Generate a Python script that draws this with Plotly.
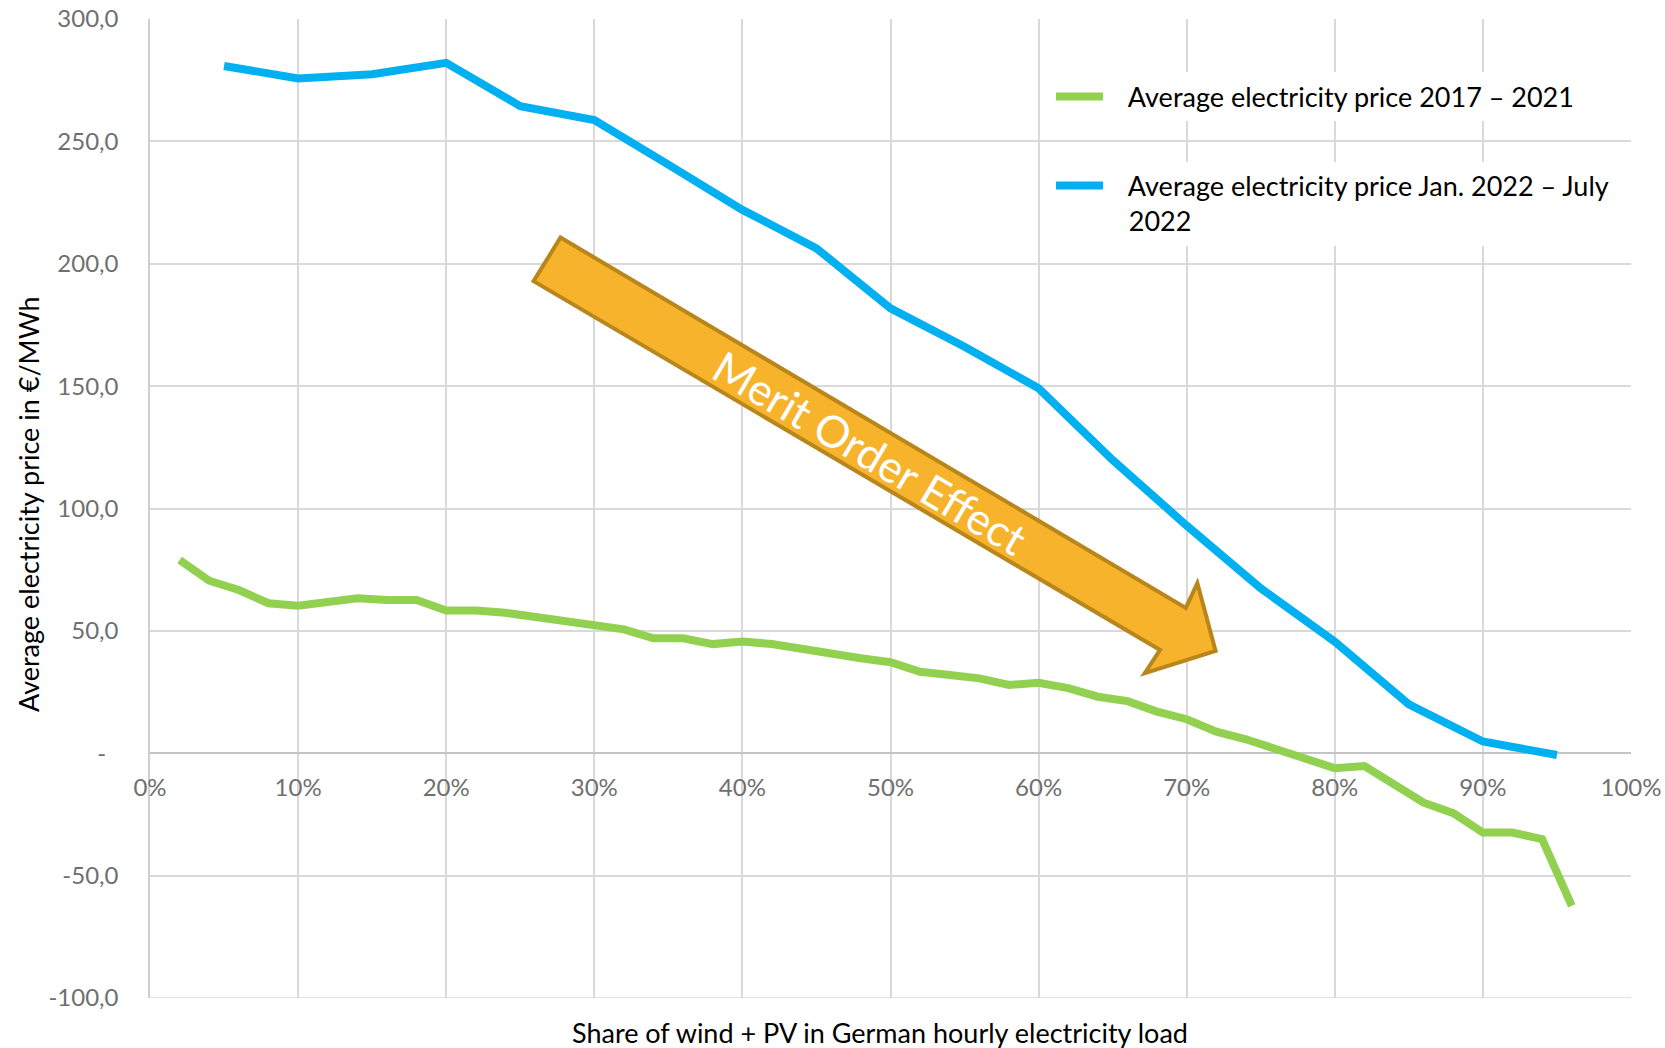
import plotly.graph_objects as go

# ---------------- data ----------------
share_2017_2021 = [2, 4, 6, 8, 10, 12, 14, 16, 18, 20, 22, 24, 26, 28, 30, 32,
                   34, 36, 38, 40, 42, 44, 46, 48, 50, 52, 54, 56, 58, 60, 62, 64,
                   66, 68, 70, 72, 74, 76, 78, 80, 82, 84, 86, 88, 90, 92, 94, 96]
price_2017_2021 = [79.0, 70.5, 66.7, 61.3, 60.3, 61.7, 63.3, 62.6, 62.6, 58.3, 58.3, 57.4,
                   55.8, 54.4, 52.4, 50.6, 47.0, 47.0, 44.6, 45.7, 44.6, 42.5, 40.8, 38.8,
                   37.2, 33.3, 32.0, 30.6, 27.9, 28.8, 26.6, 23.1, 21.3, 17.0, 13.9, 8.8,
                   5.7, 1.8, -2.0, -6.1, -5.2, -12.3, -20.2, -24.5, -32.4, -32.4, -35.1, -62.4]

share_2022 = [5, 10, 15, 20, 25, 30, 35, 40, 45, 50, 55, 60, 65, 70, 75, 80, 85, 90, 95]
price_2022 = [280.8, 275.7, 277.4, 282.1, 264.4, 258.7, 240.5, 222.0, 206.3, 181.8,
              166.1, 149.1, 119.8, 93.0, 67.4, 45.6, 20.0, 4.8, -0.7]

PAD = "\u00a0\u00a0\u00a0"
name_2017_2021 = PAD + "Average electricity price 2017 – 2021"
name_2022 = PAD + "Average electricity price Jan. 2022 – July<br>" + PAD + "2022"

x_tick_vals = [0, 10, 20, 30, 40, 50, 60, 70, 80, 90, 100]
x_tick_text = ["0%", "10%", "20%", "30%", "40%", "50%", "60%", "70%", "80%", "90%", "100%"]
y_tick_vals = [-100, -50, 0, 50, 100, 150, 200, 250, 300]
y_tick_text = ["-100,0", "-50,0", "-\u00a0\u00a0", "50,0", "100,0", "150,0",
               "200,0", "250,0", "300,0"]
y_min, y_max = -100, 300

x_title = "Share of wind + PV in German hourly electricity load"
y_title = "Average electricity price in €/MWh"
arrow_label = "Merit Order Effect"

# arrow outline (annotation shape, in data units)
arrow_x = [27.72, 69.94, 70.72, 71.95, 67.17, 68.20, 25.90]
arrow_y = [210.7, 59.4, 69.5, 41.8, 32.7, 42.2, 192.9]

# ---------------- style ----------------
FONT = "Lato, 'Open Sans', sans-serif"
GREEN = "#92D050"
BLUE = "#00B0F0"
GRID = "#d9d9d9"
TICK = "#6f6f6f"
ARROW_FILL = "#F7B32B"
ARROW_LINE = "#B8861B"

fig = go.Figure()
fig.add_trace(go.Scatter(x=share_2017_2021, y=price_2017_2021, mode="lines",
                         name=name_2017_2021, legend="legend",
                         line=dict(color=GREEN, width=8)))
fig.add_trace(go.Scatter(x=share_2022, y=price_2022, mode="lines",
                         name=name_2022, legend="legend2",
                         line=dict(color=BLUE, width=8)))

# bottom grid line (plotly drops the gridline on the lower edge)
fig.add_shape(type="line", xref="paper", x0=0, x1=1, yref="y", y0=y_min, y1=y_min,
              line=dict(color=GRID, width=1.5), layer="below")

path = "M " + " L ".join(f"{x},{y}" for x, y in zip(arrow_x, arrow_y)) + " Z"
fig.add_shape(type="path", path=path, xref="x", yref="y",
              fillcolor=ARROW_FILL, line=dict(color=ARROW_LINE, width=4), layer="above")

fig.add_annotation(x=48.6, y=123.0, xref="x", yref="y", text=arrow_label,
                   textangle=30.6, showarrow=False,
                   font=dict(family=FONT, size=44, color="white"))

fig.add_annotation(x=0.4929, y=-0.0357, xref="paper", yref="paper", text=x_title,
                   showarrow=False, xanchor="center", yanchor="middle",
                   font=dict(family=FONT, size=27, color="black"))
fig.add_annotation(x=-0.0817, y=0.5046, xref="paper", yref="paper", text=y_title,
                   showarrow=False, textangle=-90, xanchor="center", yanchor="middle",
                   font=dict(family=FONT, size=27, color="black"))

legend_common = dict(xanchor="left", yanchor="middle", bgcolor="white", borderwidth=0,
                     font=dict(family=FONT, size=27, color="black"), valign="top",
                     itemwidth=47)

fig.update_layout(
    width=1665, height=1048,
    margin=dict(l=150, r=34, t=19, b=50, autoexpand=False),
    plot_bgcolor="white", paper_bgcolor="white",
    font=dict(family=FONT, size=24, color=TICK),
    showlegend=True,
    legend=dict(x=0.6084, y=0.9205, **legend_common),
    legend2=dict(x=0.6084, y=0.8115, **legend_common),
    xaxis=dict(range=[0, 100], tickmode="array", tickvals=x_tick_vals, ticktext=x_tick_text,
               showgrid=True, gridcolor=GRID, gridwidth=1.5, zeroline=False, showline=False,
               anchor="free", position=0.25, ticks="", ticklabelstandoff=18,
               automargin=False,
               tickfont=dict(family=FONT, size=24, color=TICK)),
    yaxis=dict(range=[y_min, y_max], tickmode="array", tickvals=y_tick_vals, ticktext=y_tick_text,
               showgrid=True, gridcolor=GRID, gridwidth=1.5, zeroline=True,
               zerolinecolor="#c4c4c4", zerolinewidth=2,
               showline=True, linecolor="#cfcfcf", linewidth=1.5, ticks="",
               automargin=False,
               ticklabelstandoff=25, tickfont=dict(family=FONT, size=24, color=TICK)),
)

fig.write_html("out.html")
